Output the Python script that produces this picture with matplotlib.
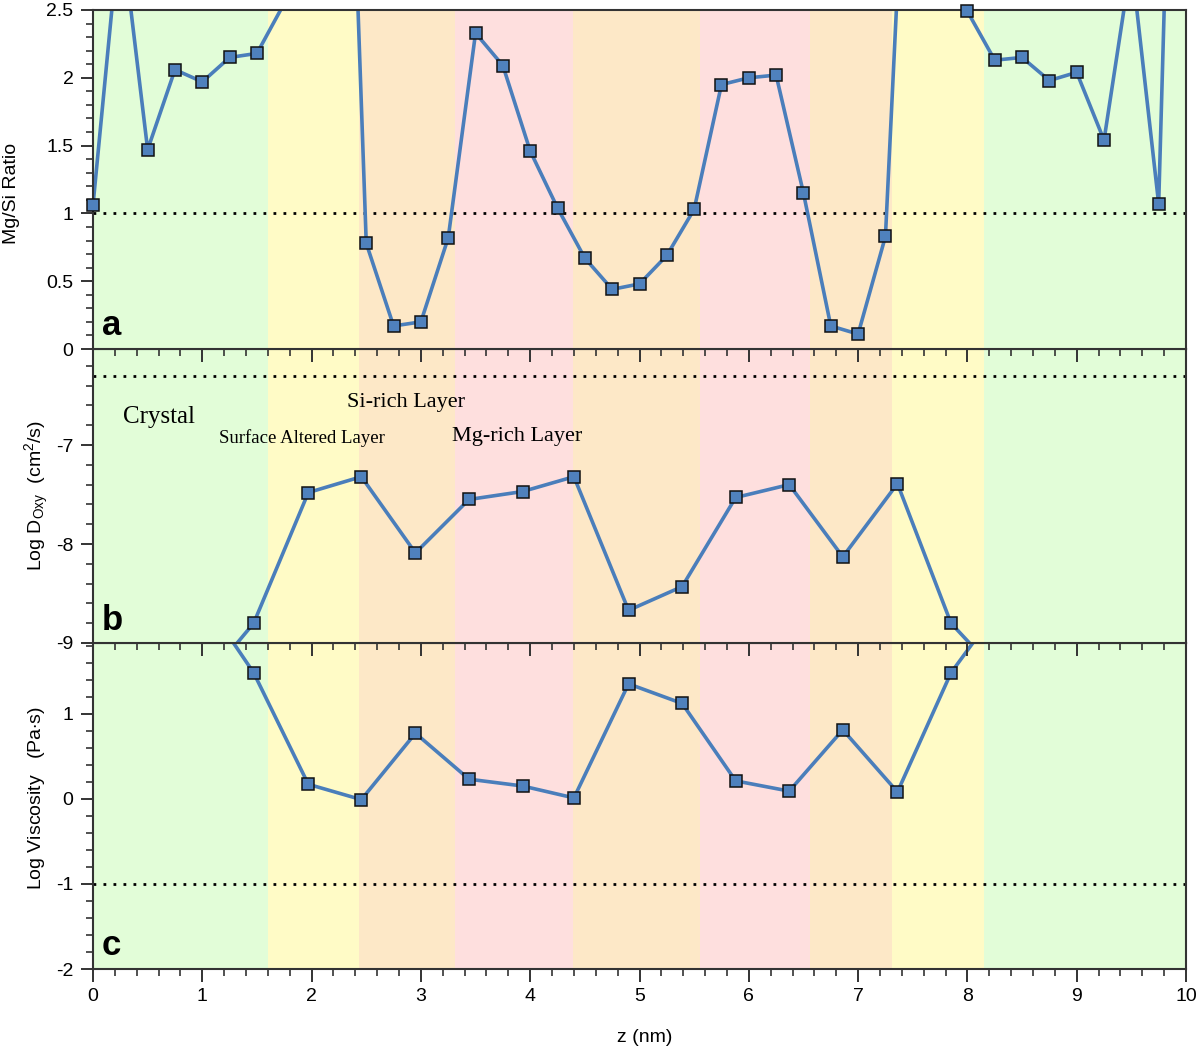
import matplotlib
matplotlib.use('Agg')
from matplotlib import pyplot as plt
from matplotlib.ticker import MultipleLocator

plt.rcParams['font.family'] = ['Liberation Sans', 'DejaVu Sans']
plt.rcParams['mathtext.fontset'] = 'custom'
plt.rcParams['mathtext.rm'] = 'Liberation Sans'
plt.rcParams['mathtext.it'] = 'Liberation Sans:italic'
plt.rcParams['axes.unicode_minus'] = False

# Layer bands along z (nm)
band_edges = [0, 1.60, 2.43, 3.31, 4.39, 5.55, 6.56, 7.31, 8.15, 10]
band_colors = ['#e2fdd8', '#fffbc6', '#fde8c7', '#fedfde', '#fde8c7',
               '#fedfde', '#fde8c7', '#fffbc6', '#e2fdd8']

# Panel a: Mg/Si ratio
z_ratio = [0, 0.25, 0.5, 0.75, 1.0, 1.25, 1.5, 1.75, 2.0, 2.25,
           2.5, 2.75, 3.0, 3.25, 3.5, 3.75, 4.0, 4.25, 4.5, 4.75,
           5.0, 5.25, 5.5, 5.75, 6.0, 6.25, 6.5, 6.75, 7.0, 7.25,
           7.5, 7.75, 8.0, 8.25, 8.5, 8.75, 9.0, 9.25, 9.5, 9.75, 10.0]
mgsi = [1.06, 3.15, 1.47, 2.06, 1.97, 2.15, 2.18, 2.55, 4.5, 6.5,
        0.78, 0.17, 0.20, 0.82, 2.33, 2.09, 1.46, 1.04, 0.67, 0.44,
        0.48, 0.69, 1.03, 1.95, 2.00, 2.02, 1.15, 0.17, 0.11, 0.83,
        5.0, 4.0, 2.49, 2.13, 2.15, 1.98, 2.04, 1.54, 2.86, 1.07, 8.2]

# Panels b and c: diffusivity and viscosity
z_layer = [0.98, 1.47, 1.97, 2.455, 2.95, 3.44, 3.93, 4.40, 4.90, 5.39,
           5.88, 6.37, 6.86, 7.36, 7.85, 8.34]
log_doxy = [-9.45, -8.80, -7.48, -7.32, -8.09, -7.55, -7.47, -7.32, -8.67, -8.43,
            -7.53, -7.40, -8.13, -7.39, -8.80, -9.38]
log_visc = [2.41, 1.48, 0.17, -0.01, 0.77, 0.23, 0.15, 0.01, 1.35, 1.12,
            0.21, 0.09, 0.81, 0.08, 1.48, 2.34]

LINE_COLOR = '#4a7ebb'
MARKER_COLOR = '#4f81bd'
SPINE_COLOR = '#333333'

fig = plt.figure(figsize=(12, 10.5), dpi=100)
left, width = 93 / 1200, (1186 - 93) / 1200
ax_a = fig.add_axes([left, 1 - 349 / 1050, width, 339 / 1050])
ax_b = fig.add_axes([left, 1 - 643 / 1050, width, 294 / 1050])
ax_c = fig.add_axes([left, 1 - 969 / 1050, width, 326 / 1050])
# upper panels on top so their outward x ticks show over the panel below
ax_a.set_zorder(3)
ax_b.set_zorder(2)
ax_c.set_zorder(1)


def draw_panel(ax, z, vals, ylim, ref, minor):
    for i in range(len(band_colors)):
        ax.axvspan(band_edges[i], band_edges[i + 1], color=band_colors[i], lw=0, zorder=0)
    ax.axhline(ref, color='black', ls=(0, (1, 2.6)), lw=2, zorder=1)
    ax.plot(z, vals, color=LINE_COLOR, lw=2.6, zorder=2)
    inside = [(x, v) for x, v in zip(z, vals) if ylim[0] <= v <= ylim[1]]
    ax.plot([p[0] for p in inside], [p[1] for p in inside], ls='none', marker='s',
            ms=9, mfc=MARKER_COLOR, mec='#111111', mew=1.1, zorder=3, clip_on=False)
    ax.set_xlim(0, 10)
    ax.set_ylim(*ylim)
    ax.xaxis.set_major_locator(MultipleLocator(1))
    ax.xaxis.set_minor_locator(MultipleLocator(0.2))
    ax.yaxis.set_minor_locator(MultipleLocator(minor))
    ax.tick_params(axis='both', which='major', direction='out', length=9, width=1.4,
                   color=SPINE_COLOR, labelsize=14, pad=5)
    ax.tick_params(axis='both', which='minor', direction='out', length=5, width=1.2,
                   color=SPINE_COLOR)
    for s in ax.spines.values():
        s.set_color(SPINE_COLOR)
        s.set_linewidth(1.5)


draw_panel(ax_a, z_ratio, mgsi, (0, 2.5), 1, 0.1)
ax_a.set_yticks([0, 0.5, 1, 1.5, 2, 2.5])
ax_a.set_yticklabels(['0', '0.5', '1', '1.5', '2', '2.5'])
ax_a.tick_params(axis='x', labelbottom=False)

draw_panel(ax_b, z_layer, log_doxy, (-9, -6.03), -6.3, 0.2)
ax_b.set_yticks([-9, -8, -7])
ax_b.tick_params(axis='x', labelbottom=False)

draw_panel(ax_c, z_layer, log_visc, (-2, 1.83), -1, 0.2)
ax_c.set_yticks([-2, -1, 0, 1])

# Panel letters
for ax, letter in [(ax_a, 'a'), (ax_b, 'b'), (ax_c, 'c')]:
    ax.text(0.008, 0.02, letter, transform=ax.transAxes, fontsize=25,
            fontweight='bold', ha='left', va='bottom', zorder=5)

# Layer names
serif = ['Liberation Serif', 'DejaVu Serif']
ax_b.text(0.272, -6.775, 'Crystal', family=serif, fontsize=18, va='baseline', zorder=5)
ax_b.text(1.153, -6.98, 'Surface Altered Layer', family=serif, fontsize=13.5,
          va='baseline', zorder=5)
ax_b.text(2.324, -6.613, 'Si-rich Layer', family=serif, fontsize=16, va='baseline', zorder=5)
ax_b.text(3.282, -6.957, 'Mg-rich Layer', family=serif, fontsize=16, va='baseline', zorder=5)

# Axis labels
fig.text(12 / 1200, 1 - 193 / 1050, 'Mg/Si Ratio', rotation=90, fontsize=14,
         ha='center', va='center')
fig.text(37 / 1200, 1 - 495 / 1050, r'Log D$_\mathrm{Oxy}$  (cm$^\mathrm{2}$/s)',
         rotation=90, fontsize=14, ha='center', va='center')
fig.text(37 / 1200, 1 - 798 / 1050, 'Log Viscosity   (Pa$\\cdot$s)', rotation=90,
         fontsize=14, ha='center', va='center')
fig.text(645 / 1200, 1 - 1037 / 1050, 'z (nm)', fontsize=14, ha='center', va='center')

plt.savefig('out.png', dpi=100)
plt.close()
